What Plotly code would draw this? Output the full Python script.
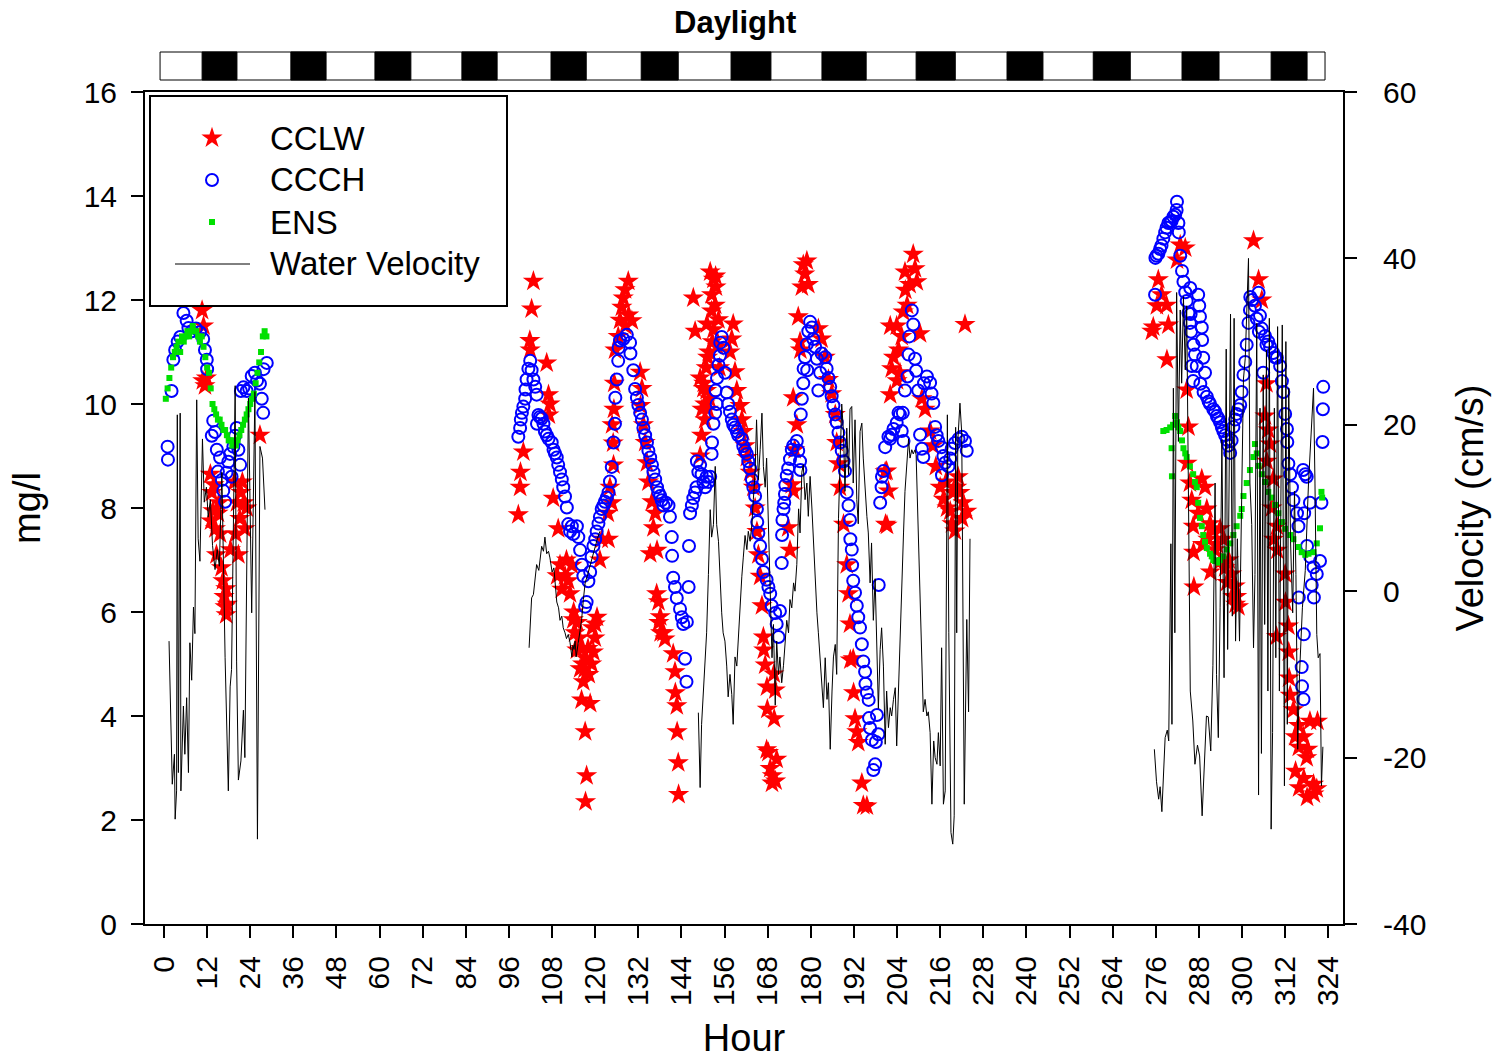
import plotly.graph_objects as go

W, H = 1511, 1063

# ---------------- data (hour, value) ----------------
cclw = [  # CCLW, mg/l
    (10.6, 11.8), (11.0, 11.5), (10.8, 10.45), (11.4, 10.35), (11.8, 10.5), (12.9, 8.65), (13.3, 8.3),
    (13.6, 7.95), (13.1, 7.75), (13.9, 8.45), (14.3, 7.6), (14.6, 7.1), (15.0, 7.9), (15.3, 8.1),
    (15.6, 7.5), (16.0, 6.85), (16.4, 6.6), (16.7, 6.3), (17.0, 6.1), (17.3, 5.95), (17.6, 6.15),
    (17.2, 6.45), (18.5, 7.2), (19.6, 8.5), (19.9, 7.5), (20.3, 8.1), (20.7, 7.1), (21.1, 7.8),
    (21.4, 8.3), (21.8, 8.5), (22.2, 8.1), (22.5, 7.6), (23.0, 8.0), (26.7, 9.4),
    (98.6, 7.87), (99.1, 8.4), (99.2, 8.69), (100.0, 9.08), (101.8, 11.22), (101.9, 11.04), (102.3, 11.83),
    (102.8, 12.36), (106.5, 10.79), (107.0, 10.18), (107.4, 10.0), (107.1, 9.79), (108.3, 8.19),
    (109.7, 7.6), (110.2, 6.91), (109.4, 6.7), (110.7, 6.44), (111.6, 6.7), (112.0, 7.0), (112.5, 6.6),
    (113.0, 6.35), (113.5, 6.9), (113.9, 5.85), (114.0, 6.0), (114.4, 5.6), (114.9, 5.27), (115.0, 5.8),
    (115.5, 5.5), (115.8, 4.91), (116.0, 5.3), (116.5, 5.0), (116.7, 4.66), (116.2, 4.31), (117.0, 4.9),
    (117.2, 3.7), (117.5, 5.1), (117.6, 2.85), (117.3, 2.35), (118.0, 5.3), (118.2, 4.8), (118.6, 4.24),
    (119.0, 5.0), (119.2, 5.7), (119.5, 5.23), (119.9, 5.5), (120.0, 5.77), (120.5, 5.9), (121.3, 7.0),
    (121.8, 7.4), (123.7, 7.4), (123.5, 7.9), (124.6, 8.1), (124.1, 8.4), (125.1, 8.83), (125.0, 9.25),
    (124.7, 9.6), (125.2, 9.9), (125.3, 10.4), (125.5, 11.04), (126.4, 11.3), (126.9, 11.61),
    (127.4, 11.86), (127.8, 12.04), (128.3, 12.2), (129.2, 12.36), (128.4, 11.5), (129.3, 11.71),
    (130.2, 11.6), (132.5, 10.61), (133.0, 10.3), (132.6, 9.97), (133.4, 9.6), (133.9, 9.26),
    (134.4, 8.87), (134.8, 8.5), (135.8, 8.12), (136.7, 7.9), (136.2, 7.62), (137.2, 7.19), (135.3, 7.12),
    (137.1, 6.35), (137.6, 6.2), (138.1, 5.91), (137.7, 5.8), (139.0, 5.6), (139.4, 5.48), (138.2, 5.6),
    (141.7, 5.2), (142.2, 4.85), (142.3, 4.45), (142.7, 4.2), (142.8, 3.7), (143.1, 3.1), (143.2, 2.49),
    (147.3, 12.04), (147.8, 11.4), (149.2, 10.5), (150.1, 10.3), (151.0, 10.26), (151.4, 9.9),
    (150.6, 9.7), (149.6, 9.4), (149.2, 9.0), (152.0, 12.54), (152.9, 12.4), (152.4, 12.1),
    (153.4, 11.9), (152.9, 11.43), (151.6, 11.0), (150.9, 10.7), (153.5, 12.46), (153.6, 12.25),
    (152.4, 11.79), (154.3, 11.62), (151.1, 11.54), (151.3, 10.9), (150.2, 10.4), (149.7, 9.9),
    (150.5, 10.0), (151.8, 10.1), (152.6, 11.2), (154.0, 11.1), (154.6, 10.7),
    (158.4, 11.54), (158.0, 11.25), (157.5, 11.0), (158.9, 10.62), (159.4, 10.26), (160.3, 9.97),
    (160.8, 9.7), (161.2, 9.47), (161.7, 9.2), (162.2, 8.97), (163.1, 8.69), (164.0, 8.4), (164.5, 8.0),
    (165.0, 7.55), (165.4, 7.1), (165.9, 6.69), (166.4, 6.12), (166.8, 5.52), (166.9, 5.27),
    (167.3, 4.98), (167.8, 4.56), (167.9, 4.13), (169.7, 4.81), (170.1, 4.5), (169.8, 3.95),
    (167.7, 3.35), (170.5, 3.17), (168.7, 2.99), (169.2, 2.71), (170.2, 2.75), (168.2, 3.3), (169.3, 2.85),
    (174.2, 7.19), (173.7, 7.62), (175.1, 8.33), (174.7, 8.45), (175.5, 9.12), (176.1, 9.6),
    (175.1, 10.12), (176.5, 11.68), (177.0, 11.2), (177.1, 11.04), (177.5, 12.25), (177.9, 12.68),
    (178.9, 12.75), (179.3, 12.3), (178.3, 12.5), (182.1, 11.45), (183.0, 11.25), (184.0, 10.9),
    (184.9, 10.47), (185.8, 10.2), (186.8, 9.8), (187.2, 9.26), (187.7, 8.85), (188.1, 8.4),
    (189.1, 7.69), (190.0, 6.91), (190.5, 6.35), (190.9, 5.77), (191.0, 5.08), (191.8, 5.1),
    (191.9, 4.45), (192.3, 3.95), (192.8, 3.7), (193.2, 3.49), (194.2, 2.71), (194.6, 2.28), (195.6, 2.27),
    (200.7, 8.7), (200.8, 7.69), (201.1, 8.71), (201.6, 8.33), (201.2, 7.67), (202.1, 10.18),
    (202.1, 11.5), (202.5, 10.68), (203.0, 10.9), (203.9, 11.5), (204.0, 10.45), (204.4, 11.04),
    (204.8, 10.6), (205.3, 11.3), (205.7, 11.77), (206.2, 12.54), (206.3, 12.19), (206.8, 11.9),
    (207.5, 12.3), (208.5, 12.88), (209.0, 12.6), (209.5, 12.35), (210.4, 11.35), (210.9, 10.1),
    (211.8, 9.9), (213.2, 9.48), (214.0, 9.2), (214.8, 8.8), (216.0, 8.4), (216.9, 8.17), (217.6, 8.5),
    (217.9, 8.0), (218.8, 7.94), (219.3, 7.7), (219.6, 8.3), (220.1, 7.56), (220.6, 8.4), (221.0, 8.6),
    (221.5, 8.3), (222.1, 7.8), (222.4, 8.1), (222.9, 11.53), (223.4, 7.94),
    (303.2, 13.14), (304.6, 12.39), (305.5, 12.0), (282.8, 13.06), (284.2, 13.0), (281.9, 12.77),
    (276.7, 12.39), (277.6, 12.1), (276.3, 11.89), (279.0, 11.9), (275.3, 11.48), (279.5, 11.52),
    (274.9, 11.4), (279.1, 10.85), (284.6, 10.27), (285.1, 9.56), (284.7, 8.86), (285.5, 8.48),
    (288.8, 8.56), (289.7, 8.4), (286.0, 8.15), (286.4, 7.65), (287.8, 7.9), (290.2, 7.98), (291.1, 7.7),
    (292.0, 7.57), (293.9, 7.6), (294.8, 7.4), (293.0, 7.3), (286.5, 7.15), (291.2, 6.77), (294.0, 6.98),
    (295.3, 6.85), (295.8, 6.57), (297.1, 6.73), (298.1, 6.5), (286.6, 6.48), (298.5, 6.3), (298.2, 6.15),
    (289.0, 7.3), (290.5, 7.4), (292.5, 7.2), (296.3, 7.0), (297.5, 6.3), (299.0, 6.1),
    (306.8, 10.39), (306.4, 9.77), (307.3, 9.5), (307.8, 9.23), (306.9, 8.9), (308.7, 8.56),
    (308.3, 8.0), (309.7, 7.65), (308.8, 7.4), (309.8, 7.19), (312.0, 6.73), (312.1, 6.19),
    (312.9, 5.73), (309.6, 5.53), (313.0, 5.23), (313.1, 4.73), (313.4, 4.4), (314.3, 4.12),
    (315.7, 3.82), (318.9, 3.9), (314.8, 3.6), (315.8, 3.4), (317.1, 3.6), (318.3, 3.36), (318.0, 3.2),
    (314.9, 2.94), (315.9, 2.62), (317.2, 2.8), (319.9, 2.69), (318.1, 2.44), (320.0, 2.5), (320.8, 2.6),
    (321.0, 3.9),
]

ccch = [  # CCCH, mg/l
    (1.0, 9.18), (1.1, 8.93), (2.1, 10.25), (2.6, 10.85), (3.1, 11.04), (3.8, 11.2), (4.5, 11.29),
    (5.4, 11.75), (6.3, 11.6), (6.8, 11.46), (7.8, 11.4), (8.9, 11.45), (10.0, 11.38), (10.9, 11.25),
    (11.4, 11.04), (11.9, 10.85), (12.0, 10.67), (13.3, 9.39), (13.7, 9.68), (14.2, 9.46), (14.7, 9.12),
    (15.0, 8.7), (15.6, 8.97), (16.1, 8.54), (16.5, 8.33), (17.0, 8.12), (17.4, 8.68), (17.9, 8.89),
    (18.4, 9.04), (18.8, 8.6), (19.3, 9.18), (19.8, 9.39), (20.2, 9.54), (20.7, 9.12), (21.2, 8.83),
    (21.4, 10.25), (22.1, 10.32), (23.0, 10.25), (23.7, 10.3), (24.4, 10.54), (25.3, 10.6),
    (25.9, 10.45), (26.7, 10.39), (27.2, 10.1), (27.6, 9.83), (27.7, 10.67), (28.6, 10.79),
    (98.6, 9.37), (99.1, 9.54), (99.3, 9.7), (99.6, 9.83), (100.0, 9.95), (100.5, 10.1), (100.6, 10.28),
    (100.9, 10.47), (101.4, 10.68), (101.9, 10.83), (102.3, 10.65), (102.8, 10.47), (103.3, 10.33),
    (103.7, 10.18), (103.8, 9.62), (104.2, 9.79), (104.6, 9.75), (105.1, 9.72), (105.6, 9.62),
    (106.0, 9.47), (106.5, 9.4), (107.0, 9.33), (107.9, 9.26), (108.4, 9.12), (108.8, 9.05),
    (109.3, 8.97), (109.7, 8.83), (110.2, 8.69), (110.7, 8.55), (111.1, 8.4), (111.6, 8.22),
    (112.1, 8.01), (112.5, 7.69), (113.0, 7.55), (113.5, 7.65), (113.9, 7.5), (114.9, 7.65),
    (115.3, 7.44), (115.8, 7.19), (116.3, 6.91), (116.7, 6.69), (117.2, 6.1), (117.6, 6.19),
    (118.1, 6.59), (118.6, 6.77), (119.0, 7.06), (119.5, 7.27), (120.0, 7.4), (120.4, 7.55),
    (120.9, 7.7), (121.3, 7.83), (121.8, 7.98), (122.3, 8.05), (122.7, 8.12), (123.2, 8.2),
    (123.7, 8.3), (124.1, 8.51), (124.6, 8.79), (125.1, 9.26), (125.5, 9.62), (125.6, 10.12),
    (126.0, 10.47), (126.4, 10.83), (126.5, 11.08), (126.9, 11.22), (127.8, 11.25), (128.8, 11.33),
    (129.7, 11.18), (129.8, 10.97), (130.6, 10.65), (131.1, 10.29), (131.6, 10.12), (132.0, 9.98),
    (132.5, 9.83), (133.0, 9.7), (133.4, 9.54), (133.9, 9.4), (134.4, 9.26), (134.8, 9.1),
    (135.3, 8.97), (135.8, 8.83), (136.2, 8.69), (136.7, 8.55), (137.2, 8.4), (137.6, 8.3),
    (138.1, 8.23), (138.5, 8.15), (139.0, 8.05), (139.7, 8.1), (140.4, 8.05), (140.8, 7.83),
    (141.3, 7.44), (141.4, 7.08), (141.7, 6.66), (142.2, 6.48), (142.7, 6.27), (143.6, 6.06),
    (144.1, 5.9), (144.5, 5.77), (145.5, 5.81), (145.0, 5.1), (145.4, 4.66), (146.1, 7.27), (146.0, 6.48),
    (146.4, 7.9), (146.9, 8.05), (147.3, 8.19), (147.8, 8.3), (148.2, 8.4), (148.3, 8.9), (148.7, 8.69),
    (149.2, 8.83), (149.6, 8.65), (150.1, 8.5), (150.6, 8.4), (151.0, 8.6), (151.5, 8.5), (152.0, 8.6),
    (152.4, 9.04), (152.5, 9.26), (152.9, 9.62), (153.4, 9.83), (153.8, 10.0), (153.5, 10.26),
    (153.9, 10.5), (154.3, 10.75), (154.7, 10.93), (154.8, 11.18), (155.2, 11.29), (155.7, 11.08),
    (156.1, 10.6), (156.6, 10.22), (157.0, 10.0), (157.5, 9.85), (158.0, 9.7), (158.4, 9.6),
    (158.9, 9.55), (159.4, 9.47), (159.8, 9.4), (160.8, 9.33), (161.2, 9.19), (161.7, 9.1),
    (162.2, 9.04), (162.6, 8.9), (163.1, 8.76), (163.6, 8.55), (164.0, 8.4), (164.5, 8.23),
    (165.0, 7.98), (165.1, 7.73), (165.4, 7.52), (165.9, 7.27), (166.4, 7.02), (166.8, 6.77),
    (167.7, 6.62), (168.2, 6.48), (168.7, 6.35), (169.1, 6.12), (170.1, 5.98), (170.5, 5.77),
    (171.0, 5.52), (171.4, 6.02), (171.9, 6.94), (172.0, 7.48), (172.1, 7.77), (172.4, 7.98),
    (172.6, 8.1), (172.8, 8.27), (172.9, 8.44), (173.3, 8.62), (173.7, 8.76), (174.2, 8.94),
    (174.7, 9.12), (175.1, 9.2), (176.1, 9.29), (176.5, 9.1), (177.0, 8.9), (177.1, 8.73), (177.2, 9.8),
    (177.5, 10.1), (177.9, 10.4), (178.0, 10.68), (178.4, 10.9), (178.9, 11.15), (179.0, 10.65),
    (179.3, 11.4), (179.8, 11.58), (180.3, 11.47), (180.7, 11.25), (181.2, 11.1), (181.7, 10.87),
    (182.1, 10.26), (182.6, 10.6), (183.0, 10.97), (184.0, 10.9), (184.4, 10.68), (184.9, 10.5),
    (185.4, 10.33), (185.8, 10.15), (186.3, 9.97), (186.8, 9.8), (187.2, 9.65), (187.7, 9.45),
    (188.1, 9.26), (188.6, 9.1), (189.1, 8.9), (189.5, 8.71), (190.0, 8.3), (190.5, 8.05),
    (190.9, 7.77), (191.0, 7.4), (191.4, 7.2), (191.5, 6.9), (191.8, 6.6), (192.3, 6.37), (192.8, 6.12),
    (193.2, 5.9), (193.7, 5.7), (194.2, 5.38), (194.6, 5.05), (195.1, 4.85), (195.2, 4.62),
    (195.6, 4.45), (196.1, 4.31), (196.2, 3.96), (196.5, 3.77), (197.0, 3.54), (197.4, 2.96),
    (197.9, 3.07), (198.1, 3.5), (198.4, 4.02), (198.8, 3.65), (198.9, 6.52), (199.3, 8.1),
    (199.7, 8.4), (199.8, 8.6), (200.2, 8.71), (200.7, 9.17), (201.6, 9.37), (202.1, 9.33),
    (202.5, 9.41), (203.0, 9.52), (203.9, 9.64), (204.4, 9.83), (204.8, 9.8), (205.3, 9.48),
    (205.8, 9.29), (205.6, 9.83), (206.2, 10.26), (206.9, 10.53), (207.2, 10.95), (207.4, 11.3),
    (208.1, 11.8), (208.5, 11.53), (209.0, 10.87), (209.3, 10.64), (209.9, 10.26), (210.4, 9.41),
    (210.9, 9.14), (211.3, 8.98), (211.5, 10.4), (212.3, 10.53), (213.2, 10.41), (213.6, 10.2),
    (214.1, 10.02), (214.6, 9.56), (215.0, 9.4), (215.5, 9.29), (216.4, 9.17), (216.5, 8.63),
    (216.9, 9.0), (217.4, 8.87), (218.3, 8.8), (218.8, 8.95), (219.2, 9.14), (220.1, 9.25),
    (221.1, 9.33), (222.0, 9.37), (222.9, 9.29), (223.4, 9.1),
    (275.8, 12.1), (275.9, 12.81), (276.2, 12.85), (276.7, 12.89), (277.2, 12.98), (277.6, 13.05),
    (278.1, 13.18), (278.6, 13.3), (279.0, 13.39), (279.5, 13.48), (280.0, 13.5), (280.4, 13.52),
    (280.9, 13.6), (281.4, 13.64), (281.8, 13.73), (281.9, 13.89), (282.3, 13.48), (282.4, 13.3),
    (282.8, 12.85), (283.3, 12.56), (283.7, 12.35), (284.2, 12.15), (284.6, 11.98), (285.1, 11.75),
    (285.5, 11.56), (285.6, 12.23), (285.7, 11.73), (285.8, 11.39), (286.0, 10.73), (286.4, 10.44),
    (286.5, 11.14), (286.9, 10.95), (287.4, 10.73), (287.8, 12.1), (288.1, 11.89), (288.3, 11.68),
    (288.4, 10.39), (288.8, 11.47), (288.9, 11.23), (289.2, 10.89), (289.3, 10.23), (289.7, 10.6),
    (290.2, 10.14), (290.7, 10.05), (291.1, 10.0), (292.0, 9.9), (292.5, 9.85), (293.0, 9.77),
    (293.4, 9.72), (293.9, 9.65), (294.4, 9.55), (294.8, 9.48), (295.3, 9.4), (295.8, 9.31),
    (296.2, 9.2), (296.7, 9.06), (297.1, 9.3), (297.6, 9.56), (298.1, 9.7), (298.5, 9.81), (299.0, 9.9),
    (299.5, 9.98), (299.9, 10.23), (300.4, 10.56), (300.9, 10.81), (301.3, 11.14), (301.8, 11.56),
    (302.2, 11.81), (302.3, 12.06), (302.8, 12.0), (303.6, 11.89), (304.1, 11.64), (304.6, 12.14),
    (304.7, 11.39), (305.0, 11.7), (305.5, 11.45), (305.9, 10.6), (306.4, 11.31), (306.8, 11.14),
    (307.3, 11.2), (307.8, 11.1), (308.7, 10.98), (309.2, 10.9), (309.7, 10.89), (310.6, 10.73),
    (311.1, 10.44), (311.5, 10.23), (312.0, 9.81), (312.5, 9.52), (312.6, 9.27), (312.9, 8.85),
    (313.4, 8.65), (313.9, 8.4), (314.3, 8.15), (315.3, 7.9), (315.7, 7.65), (315.8, 6.28),
    (316.6, 4.94), (316.7, 4.57), (317.1, 4.32), (317.2, 5.57), (317.3, 7.9), (317.0, 8.73),
    (317.6, 8.65), (318.0, 8.6), (318.1, 7.27), (318.9, 8.1), (319.0, 7.06), (319.4, 6.52),
    (319.9, 6.86), (320.0, 6.28), (320.8, 6.73), (321.7, 6.98), (322.1, 8.1), (322.4, 9.27),
    (322.5, 9.9), (322.6, 10.33),
]

ens = [  # ENS, mg/l
    (0.5, 10.1), (1.0, 10.3), (1.5, 10.5), (2.0, 10.7), (2.5, 10.9), (3.0, 11.0), (3.5, 11.1),
    (4.0, 11.2), (4.5, 11.0), (5.0, 11.3), (5.5, 11.2), (6.0, 11.3), (6.5, 11.4), (7.0, 11.3),
    (7.5, 11.4), (8.0, 11.5), (8.5, 11.4), (9.0, 11.4), (9.5, 11.3), (10.0, 11.2), (10.5, 11.3),
    (11.0, 11.1), (11.5, 10.9), (12.0, 10.7), (12.5, 10.6), (13.0, 10.3), (13.5, 10.0), (14.0, 9.9),
    (14.5, 9.8), (15.0, 9.7), (15.5, 9.7), (16.0, 9.6), (16.5, 9.5), (17.0, 9.5), (17.5, 9.4),
    (18.0, 9.3), (18.5, 9.3), (19.0, 9.2), (19.5, 9.3), (20.0, 9.2), (20.5, 9.3), (21.0, 9.4),
    (21.5, 9.5), (22.0, 9.6), (22.5, 9.7), (23.0, 9.8), (23.5, 9.9), (24.0, 10.0), (24.5, 10.1),
    (25.0, 10.2), (25.5, 10.4), (26.0, 10.6), (26.5, 10.8), (27.0, 11.0), (27.5, 11.3), (28.0, 11.4),
    (28.5, 11.3),
    (278.1, 9.48), (279.0, 9.5), (280.0, 9.55), (280.4, 9.15), (280.5, 8.61), (280.8, 9.6),
    (281.4, 9.77), (281.9, 9.65), (282.3, 9.55), (282.8, 9.48), (283.3, 9.3), (283.7, 9.15),
    (284.2, 9.05), (284.6, 8.98), (285.5, 8.8), (286.4, 8.65), (286.9, 8.5), (287.4, 8.4),
    (287.8, 8.1), (288.3, 7.81), (288.8, 7.65), (289.2, 7.48), (289.7, 7.35), (290.2, 7.23),
    (291.1, 7.12), (291.6, 7.07), (292.0, 7.0), (292.5, 6.98), (293.4, 6.95), (293.9, 7.0),
    (294.8, 7.07), (295.8, 7.2), (296.7, 7.32), (297.6, 7.48), (298.5, 7.65), (299.5, 7.85),
    (299.9, 7.98), (300.4, 8.23), (301.3, 8.48), (302.2, 8.73), (303.2, 8.98), (303.6, 9.23),
    (304.1, 9.05), (304.6, 8.81), (305.5, 8.65), (306.4, 8.5), (307.3, 8.31), (308.2, 8.2),
    (309.2, 8.06), (310.1, 7.9), (311.1, 7.73), (312.0, 7.6), (313.4, 7.48), (314.3, 7.4),
    (315.7, 7.25), (316.6, 7.15), (317.6, 7.1), (318.5, 7.12), (319.9, 7.15), (320.8, 7.32),
    (321.7, 7.61), (322.1, 8.31), (322.3, 8.2),
]

velocity_seg1 = [  # Water Velocity, cm/s
    (1.4, -6.0), (1.9, -17.3), (2.3, -23.2), (2.9, -19.6), (3.1, -27.4), (3.5, -24.0), (3.7, 21.2),
    (4.0, -21.8), (4.5, 21.4), (4.7, -24.0), (5.4, -13.8), (5.8, -19.6), (6.3, -12.8), (6.8, -21.8),
    (7.2, -6.2), (7.7, -10.7), (8.2, -1.9), (8.6, -5.1), (9.1, 23.0), (9.5, 6.3), (10.0, 3.6),
    (10.7, 18.3), (11.2, 10.7), (11.8, 12.5), (12.3, 8.9), (12.9, 11.0), (13.5, 5.5), (14.2, 2.6),
    (14.8, 5.0), (15.4, 3.0), (16.1, 14.3), (17.0, -8.0), (17.9, -24.0), (18.4, -11.5), (18.8, -9.4),
    (19.8, 24.7), (20.2, -8.4), (20.7, -22.7), (21.4, -20.4), (22.1, -14.3), (22.5, -20.0),
    (23.5, 23.2), (24.4, -2.6), (25.3, 24.0), (26.0, -29.8), (26.7, 17.4), (27.4, 16.0), (28.1, 9.8),
]
velocity_seg2 = [
    (101.6, -6.8), (102.3, -0.8), (102.8, -0.4), (103.2, 1.5), (103.7, 3.2), (104.3, 2.5), (105.1, 5.4),
    (105.6, 4.8), (106.0, 6.5), (106.5, 4.5), (107.0, 4.8), (107.4, 4.0), (108.0, 2.3), (108.5, 2.8),
    (108.8, 1.0), (109.3, -1.3), (109.8, -2.0), (110.2, -3.5), (110.7, -3.0), (111.1, -4.4),
    (111.6, -5.0), (112.0, -5.7), (112.5, -5.2), (113.0, -6.2), (113.5, -7.9), (113.8, -6.5),
    (114.1, -7.0), (114.4, -6.0), (114.7, -7.9), (115.0, -7.0), (115.3, -6.2), (115.8, -5.0),
    (116.2, -3.5), (116.7, -1.0), (117.2, 1.0), (117.9, 2.0), (118.6, 3.2), (119.3, 4.2),
    (120.0, 5.4), (120.6, 6.3), (121.3, 7.2),
]
velocity_seg3 = [
    (148.7, -14.6), (149.2, -23.6), (149.6, -16.0), (150.1, -12.0), (150.6, -7.0), (151.0, -5.0),
    (151.5, 2.0), (152.0, 9.8), (152.4, 6.5), (152.9, 8.0), (153.4, 15.0), (153.8, 8.0), (154.3, 6.0),
    (154.7, 1.8), (155.2, -2.6), (155.6, -5.0), (156.1, -6.0), (156.6, -9.0), (157.0, -12.7),
    (157.5, -10.0), (158.0, -12.4), (158.4, -16.0), (158.9, -7.9), (159.4, -9.0), (159.8, -5.7),
    (160.3, -2.0), (160.8, 1.8), (161.2, 4.0), (161.7, 6.7), (162.2, 5.0), (162.6, 7.2), (163.1, 6.0),
    (163.6, 8.0), (164.0, 11.0), (164.5, 14.3), (164.9, 20.6), (165.4, 13.4), (165.9, 17.0),
    (166.4, 21.4), (166.8, 15.0), (167.3, 12.5), (167.7, 16.0), (168.2, 8.1), (168.7, -2.0),
    (169.2, -8.0), (169.6, -4.0), (170.1, -13.7), (170.5, -6.0), (171.0, -10.0), (171.4, -7.9),
    (171.9, -11.0), (172.4, -8.9), (172.8, -6.0), (173.3, -3.5), (173.8, -5.0), (174.2, -1.0),
    (174.7, -2.0), (175.2, 1.0), (175.6, 0.0), (176.1, 3.2), (176.6, 9.9), (177.0, 7.0), (177.5, 14.3),
    (177.9, 15.2), (178.4, 11.0), (178.9, 13.0), (179.3, 9.0), (179.8, 13.8), (180.3, 10.0),
    (180.7, 6.3), (181.2, 1.0), (181.7, -2.6), (182.1, -5.0), (182.6, -7.9), (183.1, -11.0),
    (183.5, -14.0), (184.0, -8.0), (184.5, -13.0), (184.9, -11.0), (185.4, -19.0), (185.9, -12.0),
    (186.3, -7.9), (186.8, -6.4), (187.2, -10.0), (187.7, 8.7), (188.1, 16.4), (188.6, 22.5),
    (189.1, 19.0), (189.5, 12.0), (190.0, 19.6), (190.5, 14.0), (190.9, 21.9), (191.4, 22.2),
    (191.8, 13.0), (192.3, 20.6), (192.8, 11.0), (193.2, 8.1), (193.7, 19.2), (194.2, 20.2),
    (194.6, 16.0), (195.1, 11.6), (195.6, 9.0), (196.0, 7.0), (196.5, 1.0), (196.9, 5.8),
    (197.4, -3.5), (197.9, 1.5), (198.4, -9.3), (198.8, -14.1), (199.3, -7.0), (199.7, -4.4),
    (200.2, -9.0), (200.7, -18.4), (201.1, -12.0), (201.6, -16.4), (202.1, -14.0), (202.5, -15.0),
    (203.0, -13.0), (203.5, -11.6), (203.9, -18.6), (204.4, -11.2), (204.8, -4.8), (205.3, 1.0),
    (205.8, 7.0), (206.2, 12.0), (206.7, 15.0), (207.2, 18.3), (207.6, 16.0), (208.1, 17.0),
    (208.5, 16.5), (209.0, 17.0), (209.3, 16.4), (209.7, 10.6), (210.2, 1.9), (210.6, -1.5),
    (211.0, -8.0), (211.3, -14.5), (211.8, -13.0), (212.3, -15.0), (212.7, -14.5), (213.2, -17.0),
    (213.7, -25.6), (214.2, -18.0), (214.6, -20.0), (215.1, -20.8), (215.5, -17.0), (216.0, -21.0),
    (216.4, -6.8), (216.9, -25.6), (217.4, -24.0), (218.0, 21.2), (218.4, -5.0), (219.0, -29.0),
    (219.5, -30.4), (219.9, -27.0), (220.3, 19.7), (220.6, -5.0), (220.9, 18.0), (221.5, 22.6),
    (222.0, 19.0), (222.7, -25.6), (223.4, -3.4), (223.9, -14.5), (224.3, 6.3),
]
velocity_seg4 = [
    (275.6, -19.0), (276.2, -22.9), (276.8, -25.0), (277.2, -23.5), (277.7, -26.5), (278.1, -21.9),
    (278.6, -17.6), (279.2, -16.7), (279.6, -18.0), (280.2, 5.7), (280.5, -16.0), (280.9, 24.4),
    (281.3, -5.0), (281.8, 35.9), (282.3, 18.0), (282.8, 33.8), (283.2, 25.0), (283.7, 35.4),
    (284.2, 26.6), (284.6, 34.3), (285.1, 10.0), (285.6, -12.0), (286.3, -15.6), (286.9, -20.8),
    (287.6, -18.5), (288.2, -19.8), (288.9, -27.0), (289.7, -18.2), (290.1, -15.0), (290.6, -15.1),
    (291.3, -19.2), (291.9, -8.9), (292.5, 13.0), (292.9, -10.0), (293.4, -17.6), (293.9, -2.0),
    (294.4, 18.2), (295.0, -10.4), (295.6, 29.1), (296.0, -7.0), (296.4, 12.0), (296.8, 33.3),
    (297.3, -3.0), (297.8, 32.8), (298.2, -6.0), (298.7, 6.3), (299.3, -6.0), (299.9, 13.0),
    (300.4, 25.5), (300.9, 28.0), (301.3, 34.9), (301.8, 40.0), (302.2, 13.0), (302.7, 8.0),
    (303.2, -6.8), (303.6, 2.0), (304.1, 32.2), (304.6, -24.5), (305.0, 22.0), (305.4, -19.5),
    (305.9, 26.0), (306.3, -4.0), (306.8, 29.0), (307.2, -12.0), (307.6, 32.8), (308.1, -28.6),
    (308.5, -17.0), (309.0, 22.0), (309.4, -8.0), (309.9, 31.8), (310.4, -12.0), (311.2, 32.0),
    (311.8, -23.4), (312.2, 30.0), (312.6, -16.0), (313.0, 24.4), (313.5, 6.0), (314.1, -2.6),
    (314.6, 12.0), (315.0, 2.0), (315.5, -19.0), (316.0, -10.0), (316.8, -2.0), (317.6, 2.5),
    (318.5, 13.0), (318.9, 16.0), (319.4, 19.3), (319.9, 24.4), (320.3, 13.0), (320.8, -5.2),
    (321.2, -8.0), (321.7, -7.5), (322.1, -23.4), (322.5, -18.7),
]

night_start = [10.6, 35.3, 58.7, 82.9, 107.7, 132.8, 157.8, 183.1, 209.3, 234.6, 258.6, 283.3, 308.1]
night_end = [20.3, 45.1, 68.7, 92.7, 117.5, 143.1, 168.9, 195.4, 220.2, 244.6, 268.9, 293.6, 318.1]
daylight_span = (-1.1, 323.1)

hour_ticks = [0, 12, 24, 36, 48, 60, 72, 84, 96, 108, 120, 132, 144, 156, 168, 180, 192, 204,
              216, 228, 240, 252, 264, 276, 288, 300, 312, 324]
mgl_ticks = [0, 2, 4, 6, 8, 10, 12, 14, 16]
vel_ticks = [-40, -20, 0, 20, 40, 60]
vel_tick_text = ["-40", "-20", "0", "20", "40", "60"]
legend_labels = ["CCLW", "CCCH", "ENS", "Water Velocity"]

# ---------------- styles ----------------
FONT = "Liberation Sans, Arial, sans-serif"
RED, BLUE, GREEN = "#ff0000", "#0000ff", "#00e000"
star_marker = dict(symbol="star", size=16, color=RED, line=dict(width=0))
circ_marker = dict(symbol="circle-open", size=12, color=BLUE, line=dict(width=2, color=BLUE))
ens_marker = dict(symbol="square", size=6, color=GREEN, line=dict(width=0))

def unzip(pairs):
    return [p[0] for p in pairs], [p[1] for p in pairs]

vel_h, vel_v = [], []
for seg in (velocity_seg1, velocity_seg2, velocity_seg3, velocity_seg4):
    h, v = unzip(seg)
    vel_h += h + [None]
    vel_v += v + [None]

fig = go.Figure()
x, y = unzip(cclw)
fig.add_trace(go.Scatter(x=x, y=y, mode="markers", marker=star_marker, name="CCLW", showlegend=False))
x, y = unzip(ccch)
fig.add_trace(go.Scatter(x=x, y=y, mode="markers", marker=circ_marker, name="CCCH", showlegend=False))
x, y = unzip(ens)
fig.add_trace(go.Scatter(x=x, y=y, mode="markers", marker=ens_marker, name="ENS", showlegend=False))
fig.add_trace(go.Scatter(x=vel_h, y=vel_v, mode="lines", yaxis="y2", connectgaps=False,
                         line=dict(color="black", width=1), name="Water Velocity", showlegend=False))

# plot area in pixels
PL, PR, PT, PB = 145, 1343, 92, 924

# ---------- manual legend (overlay axes in pixel units) ----------
LG = dict(x0=150, y0=96, x1=507, y1=306, sym_x=212, text_x=268, rows=[138, 180, 222, 264])
fig.add_trace(go.Scatter(x=[LG["sym_x"]], y=[LG["rows"][0]], mode="markers", marker=star_marker,
                         xaxis="x3", yaxis="y3", showlegend=False, hoverinfo="skip"))
fig.add_trace(go.Scatter(x=[LG["sym_x"]], y=[LG["rows"][1]], mode="markers", marker=circ_marker,
                         xaxis="x3", yaxis="y3", showlegend=False, hoverinfo="skip"))
fig.add_trace(go.Scatter(x=[LG["sym_x"]], y=[LG["rows"][2]], mode="markers", marker=ens_marker,
                         xaxis="x3", yaxis="y3", showlegend=False, hoverinfo="skip"))
fig.add_trace(go.Scatter(x=[175, 250], y=[LG["rows"][3]] * 2, mode="lines",
                         line=dict(color="black", width=1), xaxis="x3", yaxis="y3",
                         showlegend=False, hoverinfo="skip"))

shapes = [dict(type="rect", xref="paper", yref="paper", x0=LG["x0"] / W, x1=LG["x1"] / W,
               y0=1 - LG["y1"] / H, y1=1 - LG["y0"] / H, line=dict(color="black", width=2),
               fillcolor="rgba(0,0,0,0)")]
annotations = []
for lab, ry in zip(legend_labels, LG["rows"]):
    annotations.append(dict(text=lab, x=LG["text_x"] / W, y=1 - ry / H, xref="paper", yref="paper",
                            xanchor="left", yanchor="middle", showarrow=False,
                            font=dict(family=FONT, size=33, color="black")))

# ---------- daylight bar ----------
BAR_T, BAR_B = 52, 80
shapes.append(dict(type="rect", xref="x", yref="paper", x0=daylight_span[0], x1=daylight_span[1],
                   y0=1 - BAR_B / H, y1=1 - BAR_T / H, fillcolor="white",
                   line=dict(color="black", width=1)))
for s, e in zip(night_start, night_end):
    shapes.append(dict(type="rect", xref="x", yref="paper", x0=s, x1=e,
                       y0=1 - BAR_B / H, y1=1 - BAR_T / H, fillcolor="black",
                       line=dict(color="black", width=1)))
annotations.append(dict(text="<b>Daylight</b>", x=735 / W, y=1 - 22 / H, xref="paper", yref="paper",
                        xanchor="center", yanchor="middle", showarrow=False,
                        font=dict(family=FONT, size=31, color="black")))

axis_common = dict(showgrid=False, zeroline=False, ticks="outside", ticklen=12, tickwidth=1.5,
                   tickcolor="black", showline=True, linecolor="black", linewidth=2,
                   automargin=False, tickfont=dict(family=FONT, size=30, color="black"))

fig.update_layout(
    width=W, height=H, autosize=False,
    margin=dict(l=0, r=0, t=0, b=0, pad=0, autoexpand=False),
    paper_bgcolor="white", plot_bgcolor="rgba(0,0,0,0)",
    showlegend=False,
    xaxis=dict(domain=[PL / W, PR / W], range=[-5.29, 328.1], tickmode="array", tickvals=hour_ticks,
               tickangle=-90, mirror=True, ticklabelstandoff=6,
               title=dict(text="Hour", font=dict(family=FONT, size=38, color="black"), standoff=19),
               **axis_common),
    yaxis=dict(domain=[1 - PB / H, 1 - PT / H], range=[0, 16], tickmode="array", tickvals=mgl_ticks,
               mirror=True, ticklabelstandoff=8,
               title=dict(text="mg/l", font=dict(family=FONT, size=38, color="black"), standoff=31),
               **axis_common),
    yaxis2=dict(overlaying="y", side="right", anchor="x", range=[-40, 60], tickmode="array",
                tickvals=vel_ticks, ticktext=vel_tick_text, ticklabelstandoff=20,
                title=dict(text="Velocity (cm/s)", font=dict(family=FONT, size=38, color="black"),
                           standoff=31),
                **axis_common),
    xaxis3=dict(domain=[0, 1], range=[0, W], visible=False, anchor="y3", fixedrange=True,
                automargin=False),
    yaxis3=dict(domain=[0, 1], range=[H, 0], visible=False, anchor="x3", fixedrange=True,
                automargin=False),
    shapes=shapes,
    annotations=annotations,
)

fig.write_html("out.html")
